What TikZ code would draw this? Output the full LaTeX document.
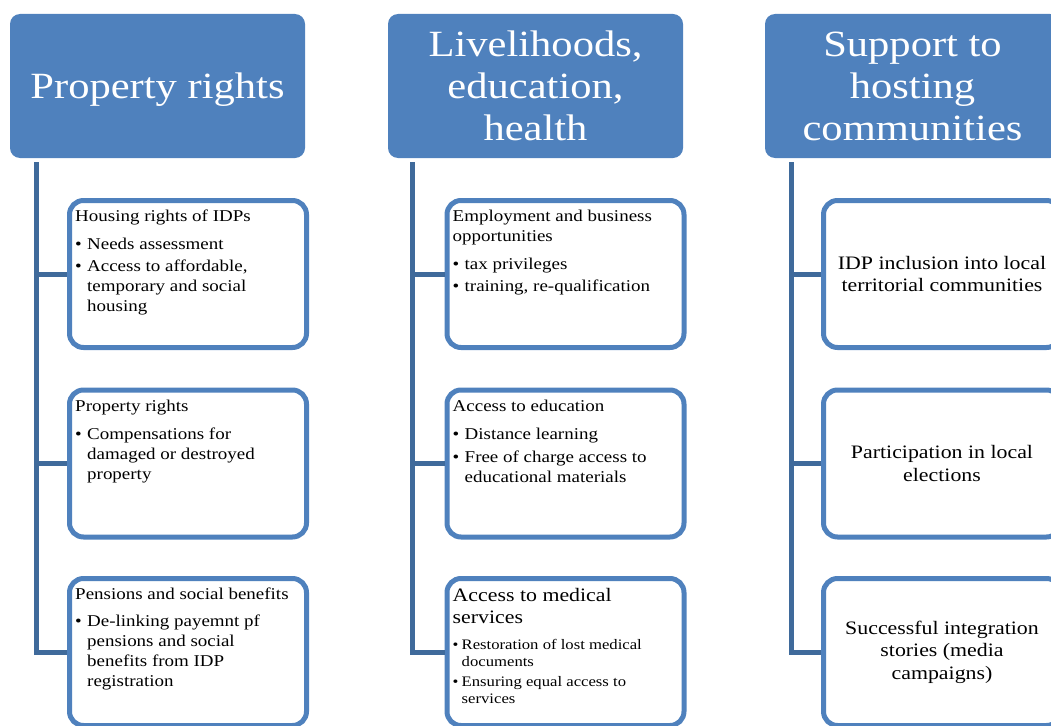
\documentclass[tikz,border=0pt]{standalone}
\usepackage{fontspec}
\setmainfont{Liberation Serif}[FakeStretch=1.15]
\usetikzlibrary{calc, positioning}

\definecolor{headblue}{HTML}{4F81BD}
\definecolor{trunkblue}{HTML}{3F6A9B}

\tikzset{
    head_box/.style = {rectangle, rounded corners = 10pt, fill = headblue, text = white, minimum width = 295pt, minimum height = 144pt, inner sep = 0pt, align = center, font = \fontsize{37}{42}\selectfont},
    item_box/.style = {rectangle, rounded corners = 14pt, draw = headblue, line width = 5pt, fill = white, minimum width = 237pt, minimum height = 147pt, inner sep = 0pt, align = center, font = \fontsize{19}{22.5}\selectfont},
    item_text/.style = {anchor = north west, inner sep = 0pt, align = left, font = \fontsize{16.5}{20}\selectfont},
    trunk_line/.style = {trunkblue, line width = 5pt},
}

\newcommand{\bul}{\makebox[12pt][l]{\textbullet}}
\newcommand{\ind}{\hspace*{12pt}}
\newcommand{\sbul}{\makebox[9pt][l]{\textbullet}}
\newcommand{\sind}{\hspace*{9pt}}

\begin{document}
\begin{tikzpicture}[x = 1pt, y = -1pt]
            \useasboundingbox (0, 0) rectangle (1051, 725);
            \clip (0, 0) rectangle (1051, 725);
            
            % column headers
            \node[head_box] (head_prop) at (157.5, 86) {\raisebox{-4pt}[\height][\depth]{Property rights}};
            \node[head_box] (head_live) at (535.5, 86) {Livelihoods,\\ education,\\ health};
            \node[head_box] (head_host) at (912.5, 86) {Support to\\ hosting\\ communities};
            
            \coordinate (trunk_prop) at ($(head_prop.south west) + (27, 4)$);
            \coordinate (trunk_live) at ($(head_live.south west) + (25, 4)$);
            \coordinate (trunk_host) at ($(head_host.south west) + (27, 4)$);
            
            % boxes
            \node[item_box] (box_a1) at (188, 274) {};
            \node[item_box] (box_a2) at (188, 463.5) {};
            \node[item_box] (box_a3) at (188, 652) {};
            
            \node[item_box] (box_b1) at (565.5, 274) {};
            \node[item_box] (box_b2) at (565.5, 463.5) {};
            \node[item_box] (box_b3) at (565.5, 652) {};
            
            \node[item_box] (box_c1) at (942, 274) {IDP inclusion into local\\ territorial communities};
            \node[item_box] (box_c2) at (942, 463.5) {Participation in local\\ elections};
            \node[item_box] (box_c3) at (942, 652) {Successful integration\\ stories (media\\ campaigns)};
            
            % trunks and branches
            \draw[trunk_line] (trunk_prop) |- (box_a3.west);
            \draw[trunk_line] (trunk_prop |- box_a1.west) -- (box_a1.west);
            \draw[trunk_line] (trunk_prop |- box_a2.west) -- (box_a2.west);
            
            \draw[trunk_line] (trunk_live) |- (box_b3.west);
            \draw[trunk_line] (trunk_live |- box_b1.west) -- (box_b1.west);
            \draw[trunk_line] (trunk_live |- box_b2.west) -- (box_b2.west);
            
            \draw[trunk_line] (trunk_host) |- (box_c3.west);
            \draw[trunk_line] (trunk_host |- box_c1.west) -- (box_c1.west);
            \draw[trunk_line] (trunk_host |- box_c2.west) -- (box_c2.west);
            
            % texts of the left-aligned boxes
            \node[item_text] (text_a1) at ($(box_a1.north west) + (8, 12)$) {Housing rights of IDPs\\[8pt] \bul Needs assessment\\[2pt] \bul Access to affordable,\\ \ind temporary and social\\ \ind housing};
            \node[item_text] (text_a2) at ($(box_a2.north west) + (8, 12)$) {Property rights\\[8pt] \bul Compensations for\\ \ind damaged or destroyed\\ \ind property};
            \node[item_text] (text_a3) at ($(box_a3.north west) + (8, 12)$) {Pensions and social benefits\\[7pt] \bul De-linking payemnt pf\\ \ind pensions and social\\ \ind benefits from IDP\\ \ind registration};
            
            \node[item_text] (text_b1) at ($(box_b1.north west) + (8, 12)$) {Employment and business\\ opportunities\\[8pt] \bul tax privileges\\[2pt] \bul training, re-qualification};
            \node[item_text] (text_b2) at ($(box_b2.north west) + (8, 12)$) {Access to education\\[8pt] \bul Distance learning\\[3pt] \bul Free of charge access to\\ \ind educational materials};
            \node[item_text, font = \fontsize{19}{22}\selectfont] (text_b3) at ($(box_b3.north west) + (8, 12)$) {Access to medical\\ services};
            \node[item_text, font = \fontsize{14.5}{17}\selectfont] (list_b3) at ($(text_b3.south west) + (0, 15)$) {\sbul Restoration of lost medical\\ \sind documents\\[3pt] \sbul Ensuring equal access to\\ \sind services};
        \end{tikzpicture}
\end{document}
